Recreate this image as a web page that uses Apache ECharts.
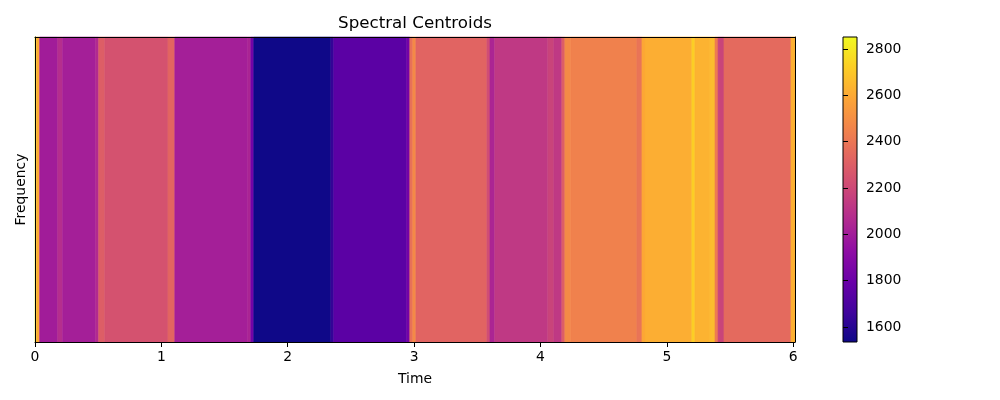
<!DOCTYPE html>
<html>
<head>
<meta charset="utf-8">
<script src="https://cdn.jsdelivr.net/npm/echarts@6/dist/echarts.min.js"></script>
<style>html,body{margin:0;padding:0;background:#fff}#c{width:1000px;height:400px}</style>
</head>
<body>
<div id="c"></div>
<script>
// Segment start times (s) and spectral centroid values (Hz)
const segStart = [0, 0.013, 0.037, 0.18, 0.219, 0.48, 0.504, 0.552, 1.052, 1.106, 1.684, 1.708, 1.731, 2.341, 2.364, 2.942, 2.966, 2.99, 3.014, 3.576, 3.6, 3.638, 4.058, 4.106, 4.169, 4.193, 4.24, 4.763, 4.803, 4.827, 5.198, 5.222, 5.341, 5.381, 5.405, 5.452, 5.982];
const segValue = [2850, 2600, 2000, 2080, 2010, 2060, 2300, 2245, 2330, 2010, 2040, 1830, 1540, 1630, 1750, 1830, 2380, 2480, 2325, 2220, 2040, 2128, 2180, 2130, 2300, 2480, 2444, 2390, 2590, 2615, 2720, 2630, 2660, 2420, 2180, 2350, 2620];
const tEnd = 6.014;
const timeTicks = [0, 1, 2, 3, 4, 5, 6];
const cbarTicks = [1600, 1800, 2000, 2200, 2400, 2600, 2800];
const cMin = 1535, cMax = 2852;
const plasma = ['#0d0887','#41049d','#6a00a8','#8f0da4','#b12a90','#cc4778','#e16462','#f2844b','#fca636','#fcce25','#f0f921'];

const segData = segStart.map((s, i) => [s, i + 1 < segStart.length ? segStart[i + 1] : tEnd, segValue[i]]);

const font = 'DejaVu Sans';
const chart = echarts.init(document.getElementById('c'), null, {renderer: 'canvas'});
chart.setOption({
  animation: false,
  backgroundColor: '#fff',
  title: {
    text: 'Spectral Centroids', left: 415, top: 15, textAlign: 'center', padding: 0,
    textStyle: {fontFamily: font, fontSize: 16.7, fontWeight: 'normal', color: '#000'}
  },
  grid: [
    {left: 35, top: 37, width: 760, height: 305},
    {left: 843, top: 37, width: 14, height: 305}
  ],
  visualMap: {
    show: false, type: 'continuous', min: cMin, max: cMax, dimension: 2, seriesIndex: 0,
    inRange: {color: plasma}
  },
  xAxis: [
    {
      type: 'value', gridIndex: 0, min: 0, max: tEnd, z: 5,
      name: 'Time', nameLocation: 'middle', nameGap: 30,
      nameTextStyle: {fontFamily: font, fontSize: 13.9, color: '#000'},
      axisLine: {show: true, onZero: false, lineStyle: {color: '#000', width: 1}},
      axisTick: {show: true, inside: false, length: 5, customValues: timeTicks, lineStyle: {color: '#000'}},
      axisLabel: {fontFamily: font, fontSize: 13.9, color: '#000', margin: 8, customValues: timeTicks},
      splitLine: {show: false}
    },
    {
      type: 'value', gridIndex: 0, min: 0, max: tEnd, position: 'top', z: 5,
      axisLine: {show: true, onZero: false, lineStyle: {color: '#000', width: 1}},
      axisTick: {show: false}, axisLabel: {show: false}, splitLine: {show: false}
    },
    {
      type: 'value', gridIndex: 1, min: 0, max: 1, show: false
    }
  ],
  yAxis: [
    {
      type: 'value', gridIndex: 0, min: 0, max: 1, z: 5,
      name: 'Frequency', nameLocation: 'middle', nameGap: 7, nameRotate: 90,
      nameTextStyle: {fontFamily: font, fontSize: 13.9, color: '#000'},
      axisLine: {show: true, onZero: false, lineStyle: {color: '#000', width: 1}},
      axisTick: {show: false}, axisLabel: {show: false}, splitLine: {show: false}
    },
    {
      type: 'value', gridIndex: 0, min: 0, max: 1, position: 'right', z: 5,
      axisLine: {show: true, onZero: false, lineStyle: {color: '#000', width: 1}},
      axisTick: {show: false}, axisLabel: {show: false}, splitLine: {show: false}
    },
    {
      type: 'value', gridIndex: 1, min: cMin, max: cMax, position: 'right', z: 5,
      axisLine: {show: false},
      axisTick: {show: true, inside: false, length: 5, customValues: cbarTicks, lineStyle: {color: '#000'}},
      axisLabel: {fontFamily: font, fontSize: 13.9, color: '#000', margin: 9, customValues: cbarTicks,
        formatter: function (v) { return String(v); }},
      splitLine: {show: false}
    }
  ],
  series: [
    {
      type: 'custom', xAxisIndex: 0, yAxisIndex: 0, data: segData,
      encode: {x: [0, 1]},
      renderItem: function (params, api) {
        const a = api.coord([api.value(0), 1]);
        const b = api.coord([api.value(1), 0]);
        const c = api.visual('color');
        return {type: 'rect', shape: {x: a[0], y: a[1], width: b[0] - a[0], height: b[1] - a[1]},
          style: {fill: c, stroke: c, lineWidth: 0.6}};
      }
    },
    {
      type: 'custom', xAxisIndex: 2, yAxisIndex: 2, data: [[cMin, cMax]],
      encode: {y: [0, 1]},
      renderItem: function (params, api) {
        const a = api.coord([0, api.value(1)]);
        const b = api.coord([1, api.value(0)]);
        return {type: 'rect', shape: {x: a[0], y: a[1], width: b[0] - a[0], height: b[1] - a[1]},
          style: {
            fill: new echarts.graphic.LinearGradient(0, 1, 0, 0, plasma.map((col, i) => ({offset: i / (plasma.length - 1), color: col}))),
            stroke: '#000', lineWidth: 1
          }};
      }
    }
  ]
});
</script>
</body>
</html>
